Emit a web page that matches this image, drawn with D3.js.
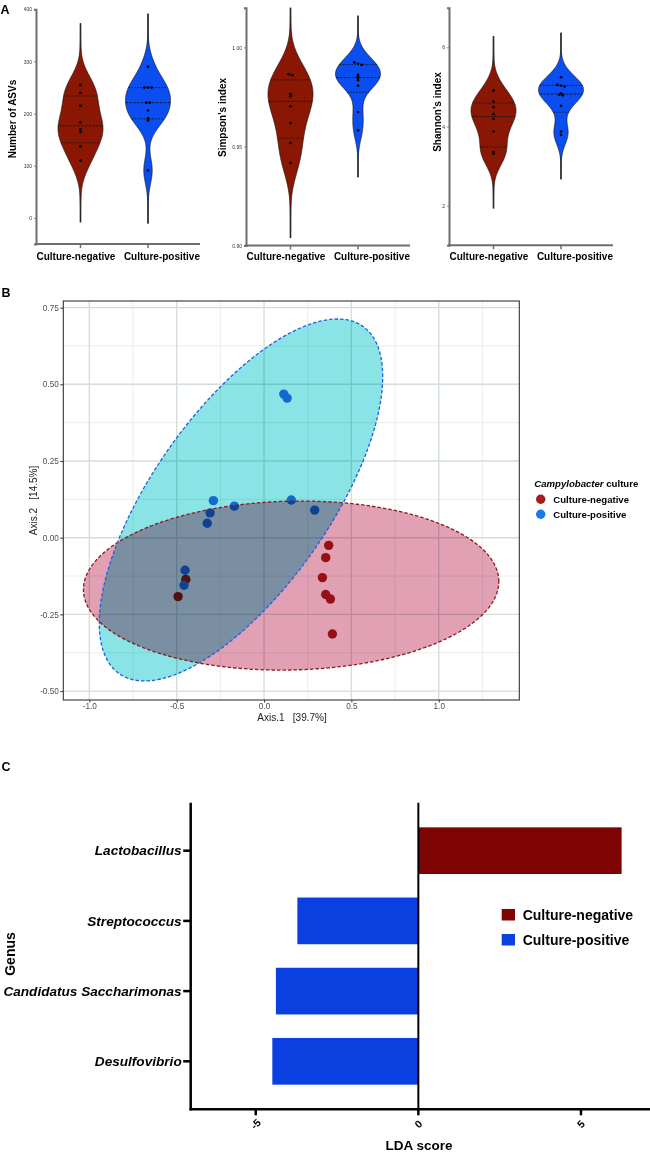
<!DOCTYPE html>
<html><head><meta charset="utf-8">
<script src="https://cdn.jsdelivr.net/npm/d3@7"></script>
<style>
html,body{margin:0;padding:0;background:#fff;}
svg{display:block;font-family:"Liberation Sans",Arial,Helvetica,sans-serif;}
</style></head><body>
<svg id="chart" width="650" height="1153"></svg>
<script>
// ---------------- DATA ----------------
const groups = ["Culture-negative", "Culture-positive"];

// Panel A: alpha diversity
const asvNeg = [255, 240, 215, 183, 170, 165, 137, 110];
const asvPos = [290, 250, 250, 250, 221, 221, 206, 191, 187, 91];
const simpsonNeg = [0.9865, 0.9860, 0.9764, 0.9753, 0.9703, 0.9618, 0.9517, 0.9417];
const simpsonPos = [0.9924, 0.9917, 0.9912, 0.9861, 0.9853, 0.9843, 0.9834, 0.9807, 0.9674, 0.9581];
const shannonNeg = [4.908, 4.630, 4.487, 4.311, 4.193, 3.874, 3.353, 3.311];
const shannonPos = [5.244, 5.050, 5.034, 5.008, 4.840, 4.798, 4.790, 4.521, 3.874, 3.790];
const asvDomain = [-50, 400];
const simpsonDomain = [0.90, 1.02];
const shannonDomain = [1, 7];
const asvTicks = [0, 100, 200, 300, 400];
const simpsonTicks = [0.90, 0.95, 1.00];
const shannonTicks = [2, 4, 6];
const alphaTitles = ["Number of ASVs", "Simpson's index", "Shannon's index"];

// Panel B: PCoA
const pcoaNegX = [0.370, 0.353, 0.334, 0.353, 0.380, 0.391, -0.448, -0.492];
const pcoaNegY = [-0.025, -0.065, -0.130, -0.185, -0.200, -0.314, -0.136, -0.192];
const pcoaPosX = [0.113, 0.132, -0.290, -0.309, -0.325, -0.170, 0.156, 0.290, -0.452, -0.458];
const pcoaPosY = [0.468, 0.455, 0.121, 0.081, 0.047, 0.103, 0.123, 0.090, -0.106, -0.155];
// ellipse: centre [x,y] and shape matrix [sxx, sxy, syy] (data units)
const ellipseNegCentre = [0.155, -0.156];
const ellipseNegShape = [1.413, 0.0155, 0.0759];
const ellipsePosCentre = [-0.132, 0.123];
const ellipsePosShape = [0.658, 0.326, 0.348];
const pcoaXDomain = [-1.149, 1.461];
const pcoaYDomain = [-0.529, 0.7715];
const pcoaXMajor = [-1.0, -0.5, 0.0, 0.5, 1.0];
const pcoaXMinor = [-0.75, -0.25, 0.25, 0.75, 1.25];
const pcoaYMajor = [-0.50, -0.25, 0.00, 0.25, 0.50, 0.75];
const pcoaYMinor = [-0.375, -0.125, 0.125, 0.375, 0.625];

// Panel C: LEfSe
const genera = ["Lactobacillus", "Streptococcus", "Candidatus Saccharimonas", "Desulfovibrio"];
const ldaScores = [6.25, -3.72, -4.38, -4.49];
const ldaGroup = ["Culture-negative", "Culture-positive", "Culture-positive", "Culture-positive"];
const ldaDomain = [-7, 7];
const ldaTicks = [-5, 0, 5];

// ---------------- STYLE ----------------
const violinColor = {"Culture-negative": "#8A1604", "Culture-positive": "#0A4DF0"};
const pcoaPointColor = {"Culture-negative": "#A81A1C", "Culture-positive": "#1F76E6"};
const pcoaFill = {"Culture-negative": "#E2A0B4", "Culture-positive": "#8AE4E6"};
const pcoaStroke = {"Culture-negative": "#8B1A1A", "Culture-positive": "#1F5FE6"};
const barColor = {"Culture-negative": "#7E0303", "Culture-positive": "#0A40E0"};
const hyphen = f => d => f(d).replace("\u2212", "-");

const svg = d3.select("#chart");

// panel letters
svg.append("text").attr("x", 0.5).attr("y", 13.5).attr("font-size", 12.5).attr("font-weight", "bold").text("A");
svg.append("text").attr("x", 1.5).attr("y", 297).attr("font-size", 12.5).attr("font-weight", "bold").text("B");
svg.append("text").attr("x", 1.5).attr("y", 771).attr("font-size", 12.5).attr("font-weight", "bold").text("C");

// ---------------- PANEL A ----------------
function prismQuantile(sorted, p) {
  const n = sorted.length, pos = (n + 1) * p, lo = Math.floor(pos), fr = pos - lo;
  if (lo < 1) return sorted[0];
  if (lo >= n) return sorted[n - 1];
  return sorted[lo - 1] + fr * (sorted[lo] - sorted[lo - 1]);
}
const gauss = z => Math.exp(-0.5 * z * z) / Math.sqrt(2 * Math.PI);

const alphaData = [
  {neg: asvNeg, pos: asvPos, domain: asvDomain, ticks: asvTicks, fmt: d3.format("d")},
  {neg: simpsonNeg, pos: simpsonPos, domain: simpsonDomain, ticks: simpsonTicks, fmt: d3.format(".2f")},
  {neg: shannonNeg, pos: shannonPos, domain: shannonDomain, ticks: shannonTicks, fmt: d3.format("d")}
];
const alphaLayout = [
  {left: 36, yRange: [244, 9.3], tx: 15.5, ty: 119},
  {left: 246, yRange: [245.5, 7.8], tx: 226, ty: 117.5},
  {left: 449, yRange: [245.3, 7.7], tx: 440.5, ty: 112}
];
const AXW = 164, HALF = 22.5;

alphaData.forEach((pd, i) => {
  const L = alphaLayout[i];
  const y = d3.scaleLinear().domain(pd.domain).range(L.yRange);
  const x = d3.scalePoint().domain(groups).range([L.left + 44.5, L.left + 112]);
  const g = svg.append("g");
  const clipId = "clipA" + i;
  g.append("clipPath").attr("id", clipId).append("rect")
    .attr("x", L.left).attr("y", L.yRange[1]).attr("width", AXW).attr("height", L.yRange[0] - L.yRange[1]);
  const plot = g.append("g").attr("clip-path", `url(#${clipId})`);

  [[groups[0], pd.neg], [groups[1], pd.pos]].forEach(([grp, arr]) => {
    const s = arr.slice().sort(d3.ascending), n = s.length;
    const q1 = prismQuantile(s, 0.25), med = prismQuantile(s, 0.5), q3 = prismQuantile(s, 0.75);
    const sd = d3.deviation(s);
    const h = 0.9 * Math.min(sd, (q3 - q1) / 1.34) * Math.pow(n, -0.2);
    const lo = s[0] - 4 * h, hi = s[n - 1] + 4 * h;
    const dens = v => d3.sum(s, d => gauss((v - d) / h)) / (n * h);
    const grid = d3.range(0, 301).map(k => lo + (hi - lo) * k / 300).map(v => ({v, d: dens(v)}));
    const maxD = d3.max(grid, d => d.d);
    const cx = x(grp);
    const wOf = v => dens(v) / maxD * HALF;
    // tail line
    plot.append("line").attr("x1", cx).attr("x2", cx).attr("y1", y(lo)).attr("y2", y(hi))
      .attr("stroke", "#7a7a7a").attr("stroke-width", 2);
    // violin
    plot.append("path").datum(grid)
      .attr("d", d3.area().y(d => y(d.v)).x0(d => cx - d.d / maxD * HALF).x1(d => cx + d.d / maxD * HALF).curve(d3.curveBasis))
      .attr("fill", violinColor[grp]).attr("stroke", "#1a1a1a").attr("stroke-width", 0.7);
    // quartile lines
    [[q1, "1.6,1.4"], [med, "2.6,1.2"], [q3, "1.6,1.4"]].forEach(([q, dash]) => {
      const w = wOf(q);
      plot.append("line").attr("x1", cx - w).attr("x2", cx + w).attr("y1", y(q)).attr("y2", y(q))
        .attr("stroke", "#111").attr("stroke-width", 0.8).attr("stroke-dasharray", dash);
    });
    // points with tie spreading
    const pts = s.map(v => ({v, py: y(v)})).sort((a, b) => a.py - b.py);
    const bins = [];
    pts.forEach((p, k) => {
      if (k > 0 && p.py - pts[k - 1].py < 1.5) bins[bins.length - 1].push(p); else bins.push([p]);
    });
    bins.forEach(b => b.forEach((p, j) => {
      plot.append("circle").attr("cx", cx + (j - (b.length - 1) / 2) * 3.6).attr("cy", p.py)
        .attr("r", 1.35).attr("fill", "#000");
    }));
  });

  // axes
  const ya = g.append("g").attr("transform", `translate(${L.left},0)`)
    .call(d3.axisLeft(y).tickValues(pd.ticks).tickFormat(pd.fmt).tickSize(2).tickPadding(2));
  ya.select(".domain").attr("stroke", "#6e6e6e").attr("stroke-width", 2);
  ya.selectAll(".tick line").attr("stroke", "#6e6e6e").attr("stroke-width", 0.8);
  ya.selectAll(".tick text").attr("font-size", 5).attr("fill", "#333").attr("font-family", "Liberation Sans, Arial, sans-serif");
  g.append("line").attr("x1", L.left - 1).attr("x2", L.left + AXW).attr("y1", L.yRange[0]).attr("y2", L.yRange[0])
    .attr("stroke", "#6e6e6e").attr("stroke-width", 2);
  groups.forEach(grp => {
    g.append("line").attr("x1", x(grp)).attr("x2", x(grp)).attr("y1", L.yRange[0]).attr("y2", L.yRange[0] + 4)
      .attr("stroke", "#6e6e6e").attr("stroke-width", 1.5);
  });
  g.append("text").attr("x", L.left + 0.5).attr("y", 260).attr("font-size", 10).attr("font-weight", "bold")
    .attr("text-anchor", "start").text(groups[0]);
  g.append("text").attr("x", L.left + AXW).attr("y", 260).attr("font-size", 10).attr("font-weight", "bold")
    .attr("text-anchor", "end").text(groups[1]);
  g.append("text").attr("transform", `translate(${L.tx},${L.ty}) rotate(-90)`).attr("text-anchor", "middle")
    .attr("font-size", 10).attr("font-weight", "bold").text(alphaTitles[i]);
});

// ---------------- PANEL B ----------------
{
  const PL = 63.3, PR = 519.3, PT = 301, PB = 700;
  const bx = d3.scaleLinear().domain(pcoaXDomain).range([PL, PR]);
  const by = d3.scaleLinear().domain(pcoaYDomain).range([PB, PT]);
  const g = svg.append("g");
  g.append("rect").attr("x", PL).attr("y", PT).attr("width", PR - PL).attr("height", PB - PT).attr("fill", "#fff");
  pcoaXMinor.forEach(v => g.append("line").attr("x1", bx(v)).attr("x2", bx(v)).attr("y1", PT).attr("y2", PB)
    .attr("stroke", "#e3eae8").attr("stroke-width", 0.8));
  pcoaYMinor.forEach(v => g.append("line").attr("y1", by(v)).attr("y2", by(v)).attr("x1", PL).attr("x2", PR)
    .attr("stroke", "#e3eae8").attr("stroke-width", 0.8));
  pcoaXMajor.forEach(v => g.append("line").attr("x1", bx(v)).attr("x2", bx(v)).attr("y1", PT).attr("y2", PB)
    .attr("stroke", "#d3dedb").attr("stroke-width", 1.4));
  pcoaYMajor.forEach(v => g.append("line").attr("y1", by(v)).attr("y2", by(v)).attr("x1", PL).attr("x2", PR)
    .attr("stroke", "#d3dedb").attr("stroke-width", 1.4));

  // points (under the ellipses)
  const pts = [];
  pcoaNegX.forEach((v, k) => pts.push({x: v, y: pcoaNegY[k], g: groups[0]}));
  pcoaPosX.forEach((v, k) => pts.push({x: v, y: pcoaPosY[k], g: groups[1]}));
  g.selectAll("circle.pt").data(pts).join("circle").attr("class", "pt")
    .attr("cx", d => bx(d.x)).attr("cy", d => by(d.y)).attr("r", 4.7).attr("fill", d => pcoaPointColor[d.g]);

  // ellipses
  function ellipsePts(c, sh) {
    const l11 = Math.sqrt(sh[0]), l21 = sh[1] / l11, l22 = Math.sqrt(sh[2] - l21 * l21);
    return d3.range(0, 240).map(k => {
      const t = 2 * Math.PI * k / 240;
      return [bx(c[0] + l11 * Math.cos(t)), by(c[1] + l21 * Math.cos(t) + l22 * Math.sin(t))];
    });
  }
  const ell = [
    {g: groups[0], p: ellipsePts(ellipseNegCentre, ellipseNegShape)},
    {g: groups[1], p: ellipsePts(ellipsePosCentre, ellipsePosShape)}
  ];
  const line = d3.line().curve(d3.curveLinearClosed);
  ell.forEach(e => g.append("path").attr("d", line(e.p)).attr("fill", pcoaFill[e.g])
    .style("mix-blend-mode", "multiply"));
  ell.forEach(e => g.append("path").attr("d", line(e.p)).attr("fill", "none").attr("stroke", pcoaStroke[e.g])
    .attr("stroke-width", 1.3).attr("stroke-dasharray", "3.5,2"));

  g.append("rect").attr("x", PL).attr("y", PT).attr("width", PR - PL).attr("height", PB - PT)
    .attr("fill", "none").attr("stroke", "#333").attr("stroke-width", 1.1);

  const xa = g.append("g").attr("transform", `translate(0,${PB})`)
    .call(d3.axisBottom(bx).tickValues(pcoaXMajor).tickFormat(hyphen(d3.format(".1f"))).tickSize(2.5).tickPadding(1));
  xa.select(".domain").remove();
  xa.selectAll(".tick line").attr("stroke", "#333");
  xa.selectAll(".tick text").attr("font-size", 8.2).attr("fill", "#4d4d4d").attr("font-family", "Liberation Sans, Arial, sans-serif");
  const yaB = g.append("g").attr("transform", `translate(${PL},0)`)
    .call(d3.axisLeft(by).tickValues(pcoaYMajor).tickFormat(hyphen(d3.format(".2f"))).tickSize(3).tickPadding(1.5));
  yaB.select(".domain").remove();
  yaB.selectAll(".tick line").attr("stroke", "#333");
  yaB.selectAll(".tick text").attr("font-size", 8.2).attr("fill", "#4d4d4d").attr("font-family", "Liberation Sans, Arial, sans-serif");

  g.append("text").attr("x", 292).attr("y", 720.5).attr("text-anchor", "middle").attr("font-size", 10)
    .attr("fill", "#222").style("white-space", "pre").text("Axis.1   [39.7%]");
  g.append("text").attr("transform", `translate(37,${(PT + PB) / 2}) rotate(-90)`).attr("text-anchor", "middle")
    .attr("font-size", 10).attr("fill", "#222").style("white-space", "pre").text("Axis.2   [14.5%]");

  // legend
  const lt = g.append("text").attr("x", 534.3).attr("y", 487).attr("font-size", 9.6).attr("font-weight", "bold");
  lt.append("tspan").attr("font-style", "italic").text("Campylobacter");
  lt.append("tspan").text(" culture");
  groups.forEach((grp, k) => {
    g.append("circle").attr("cx", 540.7).attr("cy", 499.3 + 15 * k).attr("r", 4.7).attr("fill", pcoaPointColor[grp]);
    g.append("text").attr("x", 553.3).attr("y", 502.8 + 15 * k).attr("font-size", 9.6).attr("font-weight", "bold").text(grp);
  });
}

// ---------------- PANEL C ----------------
{
  const CL = 190.7, CR = 646, CT = 802.7, CB = 1109.3;
  const lx = d3.scaleLinear().domain(ldaDomain).range([CL, CR]);
  const ly = d3.scaleBand().domain(genera).range([CT, CB]).paddingInner(0.335).paddingOuter(0.351);
  const g = svg.append("g");
  genera.forEach((gen, k) => {
    const v = ldaScores[k];
    g.append("rect").attr("x", lx(Math.min(0, v))).attr("width", Math.abs(lx(v) - lx(0)))
      .attr("y", ly(gen)).attr("height", ly.bandwidth()).attr("fill", barColor[ldaGroup[k]]);
  });
  // zero line
  g.append("line").attr("x1", lx(0)).attr("x2", lx(0)).attr("y1", CT).attr("y2", CB).attr("stroke", "#000").attr("stroke-width", 2);
  // y axis
  g.append("line").attr("x1", CL).attr("x2", CL).attr("y1", CT).attr("y2", CB + 1.2).attr("stroke", "#000").attr("stroke-width", 2.5);
  genera.forEach(gen => {
    const yy = ly(gen) + ly.bandwidth() / 2;
    g.append("line").attr("x1", CL - 7.5).attr("x2", CL).attr("y1", yy).attr("y2", yy).attr("stroke", "#000").attr("stroke-width", 2.5);
    g.append("text").attr("x", CL - 9).attr("y", yy).attr("dy", "0.35em").attr("text-anchor", "end")
      .attr("font-size", 13.6).attr("font-weight", "bold").attr("font-style", "italic").text(gen);
  });
  // x axis
  g.append("line").attr("x1", CL - 1.2).attr("x2", 650).attr("y1", CB).attr("y2", CB).attr("stroke", "#000").attr("stroke-width", 2.5);
  ldaTicks.forEach(t => {
    g.append("line").attr("x1", lx(t)).attr("x2", lx(t)).attr("y1", CB).attr("y2", CB + 6).attr("stroke", "#000").attr("stroke-width", 2.5);
    g.append("text").attr("transform", `translate(${lx(t)},1124) rotate(-45)`).attr("text-anchor", "middle")
      .attr("dy", "0.35em").attr("font-size", 10.5).attr("font-weight", "bold").text(t);
  });
  g.append("text").attr("x", 419).attr("y", 1149.5).attr("text-anchor", "middle").attr("font-size", 13.5)
    .attr("font-weight", "bold").text("LDA score");
  g.append("text").attr("transform", `translate(14.5,954) rotate(-90)`).attr("text-anchor", "middle")
    .attr("font-size", 14).attr("font-weight", "bold").text("Genus");
  // legend
  groups.forEach((grp, k) => {
    g.append("rect").attr("x", 501.7).attr("y", 909 + 25 * k).attr("width", 13.3).attr("height", 11.5).attr("fill", barColor[grp]);
    g.append("text").attr("x", 522.7).attr("y", 920 + 25 * k).attr("font-size", 14).attr("font-weight", "bold").text(grp);
  });
}
</script>
</body></html>
